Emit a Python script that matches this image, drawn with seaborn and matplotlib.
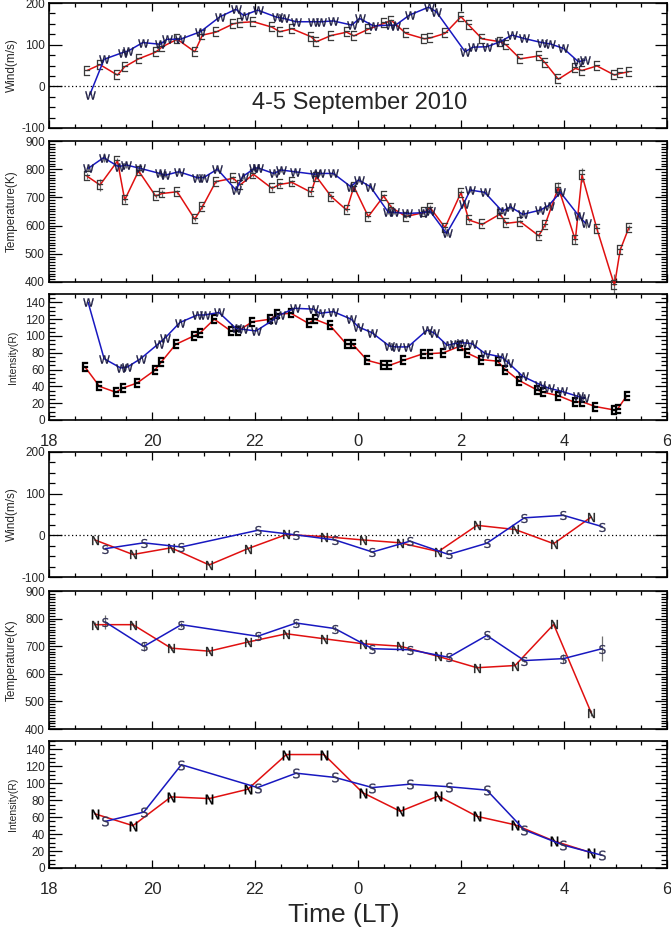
import numpy as np
import pandas as pd
import seaborn as sns
import matplotlib
matplotlib.use("Agg")
import matplotlib.pyplot as plt
from matplotlib.ticker import MultipleLocator, FixedLocator

# ---------------- data ----------------
# Panel 1: zonal wind (E red, W blue); x = hours since 18 LT (24 = 0 LT)
ew_wind_E_x = [18.74, 18.99, 19.33, 19.47, 19.74, 20.07, 20.20, 20.49, 20.83, 20.98, 21.24, 21.58, 21.71,
               21.97, 22.33, 22.48, 22.72, 23.09, 23.19, 23.48, 23.78, 23.92, 24.20, 24.50, 24.65, 24.93,
               25.29, 25.40, 25.69, 26.00, 26.15, 26.41, 26.76, 26.88, 27.15, 27.51, 27.63, 27.89, 28.22,
               28.35, 28.64, 28.98, 29.09, 29.26]
ew_wind_E = [38, 52, 27, 47, 66, 82, 95, 113, 83, 123, 130, 150, 153, 155, 142, 131, 138, 119, 107, 122,
             130, 121, 137, 151, 158, 127, 114, 116, 127, 167, 147, 114, 107, 99, 66, 73, 57, 17, 43, 38,
             49, 27, 31, 35]
ew_wind_W_x = [18.79, 19.07, 19.43, 19.54, 19.82, 20.16, 20.29, 20.55, 20.94, 21.32, 21.63, 21.78, 22.05,
               22.42, 22.56, 22.80, 23.13, 23.29, 23.52, 23.88, 24.03, 24.30, 24.62, 24.72, 25.00, 25.37,
               25.52, 26.08, 26.23, 26.50, 26.76, 26.99, 27.22, 27.57, 27.73, 27.99, 28.28, 28.41]
ew_wind_W = [-21, 65, 81, 85, 105, 101, 113, 113, 131, 167, 185, 170, 183, 166, 163, 155, 155, 155, 157,
             147, 163, 145, 147, 146, 171, 190, 179, 83, 94, 95, 107, 123, 115, 105, 102, 91, 59, 63]

# Panel 2: temperature (E red, W blue)
ew_temp_E_x = ew_wind_E_x
ew_temp_E = [775, 744, 829, 691, 794, 705, 714, 720, 623, 667, 756, 768, 744, 782, 732, 746, 753, 718,
             774, 703, 655, 738, 632, 705, 664, 632, 647, 664, 593, 717, 620, 604, 641, 608, 614, 564,
             602, 735, 549, 779, 588, 388, 513, 593]
ew_temp_E_err = [10, 20, 10, 10, 10, 8, 12, 8, 8, 8, 6, 8, 6, 8, 8, 8, 8, 8, 8, 8, 8, 8, 6, 8, 8, 6, 6,
                 8, 8, 8, 6, 6, 8, 6, 6, 8, 8, 20, 15, 25, 12, 40, 12, 10]
ew_temp_W_x = [18.76, 19.06, 19.35, 19.50, 19.77, 20.15, 20.26, 20.52, 20.88, 21.00, 21.27, 21.63, 21.76,
               21.99, 22.05, 22.36, 22.51, 22.77, 23.16, 23.26, 23.52, 23.86, 24.01, 24.24, 24.59, 24.70,
               24.96, 25.27, 25.40, 25.72, 26.05, 26.18, 26.46, 26.80, 26.96, 27.20, 27.54, 27.70, 27.93,
               28.29, 28.42]
ew_temp_W = [803, 841, 809, 815, 803, 785, 779, 791, 770, 770, 800, 726, 774, 803, 805, 785, 797, 791,
             782, 785, 785, 738, 762, 738, 647, 647, 643, 646, 651, 572, 677, 726, 718, 651, 666, 640,
             655, 671, 718, 634, 608]
ew_temp_W_err = [10, 15, 10, 12, 10, 8, 6, 6, 6, 6, 8, 8, 8, 8, 6, 6, 6, 6, 6, 6, 6, 6, 6, 6, 6, 6, 6,
                 6, 6, 8, 8, 6, 6, 6, 6, 6, 6, 8, 8, 15, 15]

# Panel 3: intensity (E red, W blue)
ew_int_E_x = [18.70, 18.98, 19.30, 19.43, 19.71, 20.05, 20.18, 20.46, 20.81, 20.94, 21.21, 21.53, 21.67,
              21.95, 22.30, 22.43, 22.70, 23.04, 23.16, 23.45, 23.78, 23.90, 24.18, 24.49, 24.61, 24.88,
              25.27, 25.40, 25.66, 25.98, 26.11, 26.39, 26.71, 26.86, 27.13, 27.47, 27.60, 27.89, 28.21,
              28.34, 28.61, 28.97, 29.04, 29.22]
ew_int_E = [63, 40, 33, 38, 44, 59, 69, 90, 100, 104, 120, 106, 106, 117, 120, 126, 127, 115, 120, 113,
            90, 90, 71, 66, 65, 71, 79, 79, 80, 88, 80, 72, 70, 60, 47, 36, 33, 29, 21, 22, 16, 12, 13, 29]
ew_int_W_x = [18.76, 19.07, 19.39, 19.52, 19.78, 20.13, 20.26, 20.54, 20.88, 21.02, 21.30, 21.63, 21.76,
              22.02, 22.35, 22.48, 22.77, 23.13, 23.26, 23.52, 23.87, 24.00, 24.27, 24.61, 24.74, 24.97,
              25.34, 25.47, 25.73, 25.88, 26.02, 26.21, 26.47, 26.79, 26.92, 27.20, 27.54, 27.70, 27.96,
              28.28, 28.39]
ew_int_W = [140, 73, 62, 63, 73, 91, 98, 116, 125, 125, 128, 109, 108, 106, 119, 125, 133, 132, 127, 129,
            120, 111, 104, 88, 87, 87, 107, 104, 89, 91, 92, 91, 79, 75, 68, 52, 42, 38, 34, 28, 26]

# Panels 4-6: meridional wind, temperature, intensity (N red, S blue)
ns_N_x = [18.89, 19.63, 20.37, 21.11, 21.86, 22.61, 23.34, 24.09, 24.82, 25.56, 26.31, 27.05, 27.80, 28.53]
ns_S_x = [19.09, 19.84, 20.57, 22.05, 22.80, 23.55, 24.28, 25.01, 25.76, 26.50, 27.23, 27.99, 28.74]
ns_wind_N = [-11, -46, -30, -71, -32, 2, -3, -11, -18, -39, 24, 14, -20, 44]
ns_wind_S = [-32, -18, -28, 12, 1, -11, -40, -14, -46, -19, 42, 48, 21]
ns_temp_N = [778, 778, 693, 682, 715, 745, 727, 709, 700, 663, 622, 630, 779, 458]
ns_temp_N_err = [8, 6, 6, 6, 6, 6, 6, 6, 6, 6, 6, 6, 8, 10]
ns_temp_S = [788, 699, 778, 736, 784, 764, 691, 687, 660, 739, 648, 655, 691]
ns_temp_S_err = [25, 15, 10, 8, 8, 8, 6, 6, 6, 6, 6, 15, 45]
ns_int_N = [64, 50, 84, 82, 93, 134, 134, 89, 67, 85, 61, 51, 32, 18]
ns_int_S = [55, 66, 122, 95, 112, 107, 95, 99, 96, 92, 45, 27, 15]

xtick_vals = [18, 20, 22, 24, 26, 28, 30]
xtick_labels = ["18", "20", "22", "0", "2", "4", "6"]

# ---------------- style ----------------
sns.set_style("ticks")
plt.rcParams["font.family"] = ["Liberation Sans", "DejaVu Sans"]
plt.rcParams["mathtext.fontset"] = "dejavusans"

RED = "#e01010"
BLUE = "#1818c0"

fig = plt.figure(figsize=(6.71, 9.32), dpi=100)
W, H = 671.0, 932.0
L, R = 49.0, 667.0
boxes = [(3, 128), (141, 282), (294, 420), (452, 577), (591, 729), (741, 868)]
axes = []
for top, bot in boxes:
    ax = fig.add_axes([L / W, 1 - bot / H, (R - L) / W, (bot - top) / H])
    axes.append(ax)


def series(ax, x, y, color, letter, err=None, ms=7.5, bold=False, mcol="#222222"):
    mk = r"$\mathbf{%s}$" % letter if bold else r"$\mathsf{%s}$" % letter
    if err is not None:
        ax.errorbar(x, y, yerr=err, fmt="none", ecolor="#707070", elinewidth=0.9, capsize=0,
                    zorder=2, clip_on=False)
    sns.lineplot(x=x, y=y, ax=ax, color=color, lw=1.1, sort=False, estimator=None,
                 marker=mk, markersize=ms, mfc=mcol, mec=mcol, markeredgewidth=0.2,
                 zorder=3, clip_on=False, legend=False)


def style_axis(ax, ylim, ymaj, ymin, ylabels, show_x, ylab, ylab_size):
    ax.set_xlim(18, 30)
    ax.set_ylim(*ylim)
    ax.xaxis.set_major_locator(FixedLocator(xtick_vals))
    ax.xaxis.set_minor_locator(MultipleLocator(0.5))
    ax.yaxis.set_major_locator(FixedLocator(ymaj))
    ax.yaxis.set_minor_locator(MultipleLocator(ymin))
    ax.set_yticklabels(ylabels)
    if show_x:
        ax.set_xticklabels(xtick_labels)
    else:
        ax.set_xticklabels([])
    ax.tick_params(axis="both", which="both", direction="in", top=True, right=True,
                   color="black", width=0.9)
    ax.tick_params(axis="y", which="major", length=9, labelsize=8.5, pad=3)
    ax.tick_params(axis="y", which="minor", length=4.5)
    ax.tick_params(axis="x", which="major", length=6, labelsize=12, pad=10)
    ax.tick_params(axis="x", which="minor", length=3)
    for s in ax.spines.values():
        s.set_linewidth(1.2)
        s.set_color("black")
    ax.set_xlabel("")
    ax.set_ylabel(ylab, fontsize=ylab_size)
    ax.yaxis.set_label_coords(-0.05, 0.5)


wind_t = [-100, 0, 100, 200]
wind_l = ["-100", "0", "100", "200"]
temp_t = [400, 500, 600, 700, 800, 900]
temp_l = [str(v) for v in temp_t]
int_t = list(range(0, 141, 20))
int_l = [str(v) for v in int_t]

# Panel 1
ax = axes[0]
ax.axhline(0, color="black", ls=(0, (1, 2)), lw=0.9, zorder=1)
series(ax, ew_wind_E_x, ew_wind_E, RED, "E", mcol="#3a3a3a")
series(ax, ew_wind_W_x, ew_wind_W, BLUE, "W", mcol="#1a1a40")
style_axis(ax, (-100, 200), wind_t, 25, wind_l, False, "Wind(m/s)", 8.5)
ax.text(0.503, 0.2, "4-5 September 2010", transform=ax.transAxes, ha="center", va="center",
        fontsize=17)

# Panel 2
ax = axes[1]
series(ax, ew_temp_E_x, ew_temp_E, RED, "E", err=ew_temp_E_err, mcol="#3a3a3a")
series(ax, ew_temp_W_x, ew_temp_W, BLUE, "W", err=ew_temp_W_err, mcol="#1a1a40")
style_axis(ax, (400, 900), temp_t, 10, temp_l, False, "Temperature(K)", 8.5)

# Panel 3
ax = axes[2]
series(ax, ew_int_E_x, ew_int_E, RED, "E", bold=True, ms=7, mcol="black")
series(ax, ew_int_W_x, ew_int_W, BLUE, "W", mcol="#1a1a40")
style_axis(ax, (0, 150), int_t, 5, int_l, True, "Intensity(R)", 7.5)

# Panel 4
ax = axes[3]
ax.axhline(0, color="black", ls=(0, (1, 2)), lw=0.9, zorder=1)
series(ax, ns_N_x, ns_wind_N, RED, "N", ms=6.5, mcol="#222222")
series(ax, ns_S_x, ns_wind_S, BLUE, "S", ms=6.5, mcol="#333355")
style_axis(ax, (-100, 200), wind_t, 25, wind_l, False, "Wind(m/s)", 8.5)

# Panel 5
ax = axes[4]
series(ax, ns_N_x, ns_temp_N, RED, "N", err=ns_temp_N_err, ms=6.5, mcol="#222222")
series(ax, ns_S_x, ns_temp_S, BLUE, "S", err=ns_temp_S_err, ms=6.5, mcol="#333355")
style_axis(ax, (400, 900), temp_t, 10, temp_l, False, "Temperature(K)", 8.5)

# Panel 6
ax = axes[5]
series(ax, ns_N_x, ns_int_N, RED, "N", ms=7, mcol="black")
series(ax, ns_S_x, ns_int_S, BLUE, "S", ms=7, mcol="#333355")
style_axis(ax, (0, 150), int_t, 5, int_l, True, "Intensity(R)", 7.5)

fig.text(344 / W, 1 - 915 / H, "Time (LT)", ha="center", va="center", fontsize=19)

fig.savefig("out.png", dpi=100)
